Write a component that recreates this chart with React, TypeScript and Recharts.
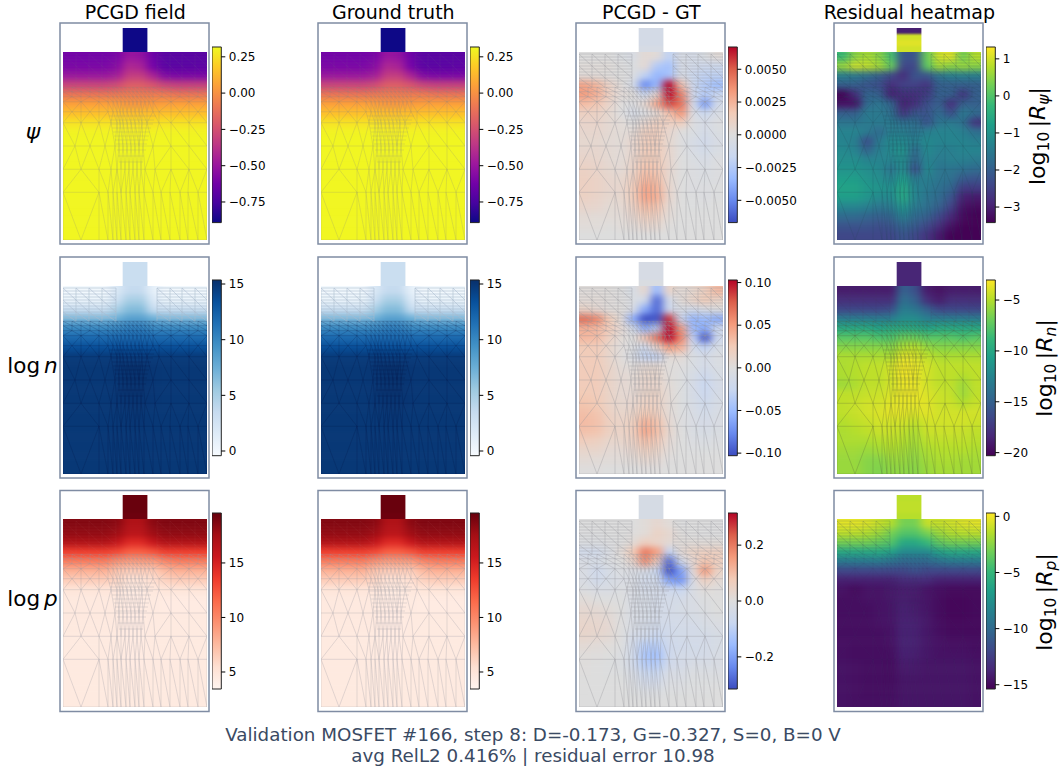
import React from "react";
import { ComposedChart, Scatter, Line, XAxis, YAxis, ReferenceArea } from "recharts";

// ---------- colormap stops ----------
const plasmaStops = ["#0d0887","#46039f","#7201a8","#9c179e","#bd3786","#d8576b","#ed7953","#fb9f3a","#fdca26","#f0f921"];
const bluesStops = ["#f7fbff","#deebf7","#c6dbef","#9ecae1","#6baed6","#4292c6","#2171b5","#08519c","#08306b"];
const redsStops = ["#fff5f0","#fee0d2","#fcbba1","#fc9272","#fb6a4a","#ef3b2c","#cb181d","#a50f15","#67000d"];
const coolwarmStops = ["#3b4cc0","#6889ee","#9abbff","#c9d7f0","#dddddd","#f2cbb7","#f49a7b","#dc5f4b","#b40426"];
const viridisStops = ["#440154","#482878","#3e4989","#31688e","#26828e","#1f9e89","#35b779","#6ece58","#b5de2b","#fde725"];

// ---------- field values, 12 columns x 20 rows, top row first ----------
const psiField = [
[-62,-62,-62,-62,-60,-50,-52,-64,-70,-70,-70,-70],
[-60,-60,-60,-60,-56,-42,-45,-62,-70,-70,-70,-69],
[-50,-50,-50,-50,-46,-33,-33,-44,-58,-60,-60,-60],
[-30,-30,-30,-30,-27,-20,-20,-24,-30,-32,-32,-32],
[-10,-10,-10,-10,-9,-8,-8,-8,-8,-10,-10,-10],
[5,5,5,5,4,2,2,3,4,5,5,5],
[15,15,15,15,15,14,14,14,15,15,15,15],
[25,25,25,25,25,24,24,24,25,25,25,25],
[30,30,30,30,30,29,29,30,30,30,30,30],
[31,31,31,31,31,30,30,31,31,31,31,31],
[31,31,31,31,31,31,31,31,31,31,31,31],
[31,31,31,31,31,31,31,31,31,31,31,31],
[31,31,31,31,31,31,31,31,31,31,31,31],
[31,31,31,31,31,31,31,31,31,31,31,31],
[31,31,31,31,31,31,31,31,31,31,31,31],
[31,31,31,31,31,31,31,31,31,31,31,31],
[31,31,31,31,31,31,31,31,31,31,31,31],
[31,31,31,31,31,31,31,31,31,31,31,31],
[31,31,31,31,31,31,31,31,31,31,31,31],
[31,31,31,31,31,31,31,31,31,31,31,31],
];
const logNField = [
[0,0,0,0,2,3.5,3.5,1,0,0,0,0],
[0.5,0.5,0.5,0.5,3,5,5,2,0.5,0.5,0.5,0.5],
[3,3,3,3,5,6.5,6.5,3.5,3,3,3,3],
[7,7,7,7,7.5,8.5,8.5,7.5,7,7,7,7],
[10,10,10,10,10,10.5,10.5,10,10,10,10,10],
[12,12,12,12,12,12,12,12,12,12,12,12],
[13.5,13.5,13.5,13.5,13.5,13.5,13.5,13.5,13.5,13.5,13.5,13.5],
[14.7,14.7,14.7,14.7,14.7,14.6,14.6,14.7,14.7,14.7,14.7,14.7],
[14.9,14.9,14.9,14.9,15,15.2,15.2,15,14.9,14.9,14.9,14.9],
[14.9,14.9,14.9,14.9,15,15.2,15.2,15,14.9,14.9,14.9,14.9],
[14.9,14.9,14.9,14.9,15,15.2,15.2,15,14.9,14.9,14.9,14.9],
[14.9,14.9,14.9,14.9,15,15.1,15.1,15,14.9,14.9,14.9,14.9],
[14.9,14.9,14.9,14.9,15,15.1,15.1,15,14.9,14.9,14.9,14.9],
[14.9,14.9,14.9,14.9,14.9,15,15,14.9,14.9,14.9,14.9,14.9],
[14.9,14.9,14.9,14.9,14.9,15,15,14.9,14.9,14.9,14.9,14.9],
[14.9,14.9,14.9,14.9,14.9,14.9,14.9,14.9,14.9,14.9,14.9,14.9],
[14.9,14.9,14.9,14.9,14.9,14.9,14.9,14.9,14.9,14.9,14.9,14.9],
[14.9,14.9,14.9,14.9,14.9,14.9,14.9,14.9,14.9,14.9,14.9,14.9],
[14.9,14.9,14.9,14.9,14.9,14.9,14.9,14.9,14.9,14.9,14.9,14.9],
[14.9,14.9,14.9,14.9,14.9,14.9,14.9,14.9,14.9,14.9,14.9,14.9],
];
const logPField = [
[18.7,18.7,18.7,18.7,18.4,17,17,18.4,18.8,18.8,18.8,18.8],
[18.2,18.2,18.2,18.2,17.8,16.5,16.5,17.8,18.3,18.3,18.3,18.3],
[17,17,17,17,16,14.5,14.5,15.8,17,17,17,17],
[13.5,13.5,13.5,13.5,13,12,12,12.5,13.5,13.5,13.5,13.5],
[10.5,10.5,10.5,10.5,9.5,9,9,9,10,10.5,10.5,10.5],
[8,8,8,8,7,6.5,6.5,6.5,7.5,8,8,8],
[6.5,6.5,6.5,6.5,6,5.2,5.2,5.5,6.2,6.5,6.5,6.5],
[5,5,5,5,5,4.6,4.6,4.8,5,5,5,5],
[4.6,4.6,4.6,4.6,4.6,4.4,4.4,4.5,4.4,4.4,4.4,4.4],
[4.6,4.6,4.6,4.6,4.6,4.4,4.4,4.5,4.4,4.4,4.4,4.4],
[4.6,4.6,4.6,4.6,4.6,4.4,4.4,4.5,4.5,4.5,4.5,4.5],
[4.6,4.6,4.6,4.6,4.6,4.4,4.4,4.5,4.5,4.5,4.5,4.5],
[4.5,4.5,4.5,4.5,4.5,4.4,4.4,4.5,4.5,4.5,4.5,4.5],
[4.5,4.5,4.5,4.5,4.5,4.4,4.4,4.5,4.5,4.5,4.5,4.5],
[4.5,4.5,4.5,4.5,4.5,4.4,4.4,4.5,4.5,4.5,4.5,4.5],
[4.5,4.5,4.5,4.5,4.5,4.4,4.4,4.5,4.5,4.5,4.5,4.5],
[4.5,4.5,4.5,4.5,4.5,4.5,4.5,4.5,4.5,4.5,4.5,4.5],
[4.5,4.5,4.5,4.5,4.5,4.5,4.5,4.5,4.5,4.5,4.5,4.5],
[4.5,4.5,4.5,4.5,4.5,4.5,4.5,4.5,4.5,4.5,4.5,4.5],
[4.5,4.5,4.5,4.5,4.5,4.5,4.5,4.5,4.5,4.5,4.5,4.5],
];
// difference panels
const psiDiffMilli = [
[0,0,0,-.3,-.5,.4,.3,-2,-.5,-.8,-.3,.3],
[.2,.2,.2,0,-.3,.5,-2.5,-3,-.5,-1,-1.3,-1.3],
[.2,.2,.1,0,-.2,-2,-3.5,-3,-.5,-1.5,-2,-2],
[3,2.4,1,.2,-.8,-5,-3.5,7,2,-1.5,-2.5,-3.2],
[3.2,2.6,1.2,.3,.2,-1.5,.8,9,4,-1.2,-2.4,-1.6],
[2.2,1.8,.9,.1,-.2,.6,3,5.5,4.5,-.8,-4.5,-1],
[1.2,1.1,.6,0,-.7,-.3,.5,2,3.5,-.4,-1.5,-.5],
[.9,.9,.5,.3,0,.7,1.4,1.2,1.5,-.2,-.7,-.2],
[.7,.7,.5,.3,.4,1.4,1.5,.7,0,-.3,-.8,-.3],
[.6,.6,.4,.3,.7,1.5,1.5,.6,-.1,-.6,-1.1,-.5],
[.7,.7,.5,.3,.7,1.6,1.5,.7,0,-.5,-.9,-.4],
[.9,.8,.5,.3,.9,1.7,1.6,.7,0,-.3,-.6,-.2],
[1.1,.9,.6,.4,1,2,1.8,.7,0,-.2,-.4,-.2],
[1.2,1,.7,.6,1.3,2.4,2.1,.6,0,-.2,-.3,-.2],
[1.2,1,.7,.7,1.5,3,2.5,.7,0,-.2,-.2,-.1],
[1.1,.9,.6,.6,1.5,3,2.6,.7,0,-.1,-.2,-.1],
[.8,.7,.4,.5,1.1,2.2,1.9,.5,0,-.1,-.1,0],
[.4,.3,.3,.3,.7,1.4,1.2,.3,0,0,0,0],
[.2,.2,.1,.2,.3,.7,.6,.1,0,0,0,0],
[0,0,0,0,0,0,0,0,0,0,0,0],
];
const logNDiffCenti = [
[.3,.3,.2,0,-1,1,-5,1.5,.5,1,2,3.5],
[.5,.5,.3,.1,-.5,-1.5,-9,-1.5,.5,1.5,2.5,1.5],
[1.5,.8,.3,.2,-.8,-6,-9,-2,-.8,-1.5,-.8,0],
[7,6,2.5,.5,-6,-13,-10,9,-2.5,-5.5,-5,-6],
[4,3.6,2.4,.8,-1.5,-6,-3.5,13,5,-5,-6,-2],
[3.6,3.4,1.8,.5,0,3,7,12,6,-3,-10,-2],
[2.5,2.4,1.2,.3,-.3,-2,1.5,5,4,-1.5,-3,-1],
[2.4,2.4,1.2,.3,-.8,-3,-3,.6,.6,-.6,-1.2,-.5],
[2.4,2.4,1.4,.5,.3,.9,.9,.2,.1,-.6,-1.3,-.6],
[2.4,2.4,1.4,.7,.6,1.2,1.2,.3,-.1,-1,-2,-1],
[2.4,2.4,1.5,.8,.7,1.3,1.3,.5,-.2,-1.2,-2.6,-1.2],
[2.6,2.4,1.5,.8,.8,1.5,1.6,.6,-.2,-1.1,-2.3,-1.1],
[2.9,2.6,1.5,1,1.1,1.9,1.7,.6,-.2,-1,-1.9,-1],
[3.2,2.9,1.7,1.2,1.5,2.6,2.1,.6,-.1,-.8,-1.5,-.8],
[3.4,3.1,1.9,1.5,2,4,3,.8,-.1,-.7,-1.2,-.7],
[3.1,2.9,1.8,1.5,2.2,4.5,3.2,1,0,-.6,-1,-.6],
[2.2,1.9,1.2,1.2,1.7,3.2,2.4,.7,0,-.4,-.5,-.4],
[1.2,1.2,.7,.7,1.1,2,1.5,.4,0,-.1,-.2,-.1],
[.6,.5,.4,.4,.5,1,.7,.1,0,0,0,0],
[.1,.1,0,0,0,.1,.1,0,0,0,0,0],
];
const logPDiffCenti = [
[0,0,0,0,0,1,3,1,-.5,0,0,-.5],
[-.5,-.5,0,0,.5,1,5,3,.5,0,-.5,-.5],
[-1,-1,-.5,0,1.5,6,4,2,1,1,1,1],
[-5,-5,-2,1.5,8,20,15,-9,2,5,6,6],
[-2,-3,-1,0,4,18,7,-28,-5,3,9,6],
[-2,-6,-3,-1,-2,-3,-8,-45,-20,2,16,5],
[-2,-5,-3,-2,-2,-5,-5,-20,-22,-2,6,2],
[-1,-2,-2,-1,-2,-4,-4,-6,-8,-2,1,.5],
[1,0,-.5,-.5,-2.5,-3,-4,-4,-4,-2,-.5,0],
[2.5,2,1,0,-2.5,-3,-4,-4,-3,-2.5,-1,0],
[3.5,3,2,0,-2.5,-3,-4,-4,-4,-3,-2,-1],
[4,3.5,2.5,0,-2.5,-4,-5,-5,-4,-4,-3,-2],
[3.5,3,2,0,-4,-5,-8,-5,-4.5,-4,-4,-3],
[1.8,1.2,.6,-.5,-5,-11,-11,-6,-5,-4.5,-4,-3],
[.6,.4,0,-1,-5,-13,-14,-6,-4,-4,-4,-2.5],
[.4,0,-.6,-1,-5,-11,-11,-5,-4,-2.5,-2.5,-2],
[.2,0,-.4,-.6,-2.5,-7,-7,-2.5,-2.5,-1.2,-1.2,-1.2],
[0,0,0,0,-1.2,-4,-4,-1.2,-1.2,-.6,-.6,-.4],
[0,0,0,0,-.6,-1.2,-1.2,-.6,-.6,-.4,-.4,0],
[0,0,0,0,0,0,0,0,0,0,0,0],
];
// residual panels
const psiResidual = [
[-.2,.5,.7,.5,-.1,-2.2,-2.2,.2,1,1.1,.3,.8],
[.6,1,.9,.7,.2,-2.4,-2.4,.1,.7,.5,.6,.5],
[-1.4,-1.5,-1.7,-2,-2.4,-2.8,-2.2,-2.2,-1.6,-1.4,-1.4,-1.4],
[-2,-2,-2.2,-2.3,-2.8,-2.5,-2.5,-2.7,-2,-2,-2,-2],
[-3.4,-2.8,-1.9,-2,-3,-2.8,-2.8,-2.6,-2,-2,-2.7,-2],
[-3.2,-3.2,-1.8,-1.6,-1.9,-3,-2.8,-2.3,-2,-2.8,-2,-2],
[-2,-2,-1.5,-1.5,-1.7,-2.7,-2.2,-2.2,-1.8,-2.3,-1.5,-1.8],
[-1.6,-1.6,-1.5,-1.5,-1.5,-1.7,-1.7,-2.2,-1.6,-1.5,-1.7,-2.7],
[-1.3,-1.3,-1.5,-1.8,-1.4,-1.4,-1.6,-1.4,-1.3,-1.3,-1.4,-1.7],
[-1.3,-1.4,-2.3,-1.5,-1.2,-1.2,-1.4,-1.2,-1.3,-1.3,-1.3,-1.4],
[-1.2,-1.3,-1.9,-1.4,-1.2,-1,-1.8,-1.2,-1.4,-1.4,-1.3,-1.3],
[-1.1,-1.1,-1.3,-1.3,-1.3,-1.1,-1.9,-1.3,-1.5,-1.4,-1.4,-1.5],
[-1,-1,-1.1,-1.2,-1.6,-1.1,-2.3,-1.2,-1.6,-1.6,-1.7,-1.8],
[-.8,-.8,-1,-1.1,-1.3,-.8,-1.5,-1.4,-1.6,-1.7,-2.1,-2.2],
[-.7,-.7,-.9,-1,-1.1,-.6,-1.3,-1.5,-1.7,-1.9,-2.6,-2.6],
[-.8,-.8,-1,-1.2,-1.2,-.6,-1.3,-1.6,-1.8,-2.2,-3,-3.1],
[-1.3,-1.3,-1.4,-1.6,-1.5,-1,-1.5,-1.7,-2,-2.5,-3.2,-3.3],
[-1.8,-1.8,-1.9,-2,-1.9,-1.4,-1.8,-2,-2.4,-2.9,-3.3,-3.4],
[-2.2,-2.2,-2.2,-2.3,-2.2,-1.9,-2.1,-2.4,-2.8,-3.2,-3.4,-3.4],
[-2.4,-2.4,-2.4,-2.4,-2.4,-2.2,-2.4,-2.7,-3.1,-3.4,-3.4,-3.4],
];
const logNResidual = [
[-19,-19,-19,-19,-19,-15,-16,-19,-19.5,-19,-19,-19],
[-18,-18,-18,-18,-18,-14,-15,-18,-19,-18,-18,-18],
[-16.5,-16.5,-16.5,-16.5,-16,-13,-13.5,-15,-16.5,-16.5,-16.5,-16.5],
[-13,-13,-13,-13,-13,-12,-12,-13,-13,-13,-13,-13],
[-10,-10,-10,-10.5,-10,-10,-10,-10.5,-10,-10,-10,-10],
[-7.6,-7.6,-7.6,-8,-8,-7,-7,-7.6,-7.6,-7.6,-8,-7.6],
[-6.2,-6.2,-6.2,-6.2,-6.2,-5.2,-4.8,-5.8,-6.2,-6.2,-6.2,-6.2],
[-5.2,-5.2,-5.2,-5.2,-5.2,-3.7,-4,-4.7,-5.2,-5.2,-5.2,-5.2],
[-5.2,-5,-4.7,-4.7,-4.2,-3.3,-3.6,-4.2,-4.7,-4.7,-4.7,-4.7],
[-5.2,-5,-4.7,-4.7,-4.2,-3.3,-3.6,-4.2,-4.7,-4.7,-5,-4.7],
[-5.6,-5.2,-4.7,-4.7,-4.2,-3.5,-3.6,-4.2,-4.7,-4.7,-5.6,-4.7],
[-4.7,-4.7,-4.5,-4.4,-4,-3.6,-3.5,-4,-4.4,-4.6,-5.6,-4.7],
[-4.7,-4.5,-4.2,-4.2,-3.8,-3.7,-3.7,-3.8,-4.4,-4.4,-5,-4.5],
[-4.7,-4.5,-4.2,-4,-3.7,-3.8,-4,-3.8,-4.2,-4.2,-4.2,-4.2],
[-5,-4.7,-4.5,-4.2,-4.2,-4.2,-4.7,-4.2,-4.2,-4.2,-4.2,-4.4],
[-5.2,-5,-4.7,-4.5,-4.4,-4.7,-5.2,-4.4,-4.4,-4.4,-4.5,-4.7],
[-5.2,-5.2,-5.2,-5,-4.8,-5,-5.4,-4.8,-4.7,-4.7,-4.7,-4.9],
[-5.5,-5.5,-5.7,-5.5,-5.2,-5.4,-5.7,-5.2,-5,-5,-5,-5.2],
[-5.7,-5.7,-6.2,-6.2,-5.7,-5.7,-6,-5.5,-5.2,-5.2,-5.4,-5.4],
[-5.7,-5.7,-6.2,-6.4,-6,-6,-6.2,-5.7,-5.4,-5.4,-5.5,-5.5],
];
const logPResidual = [
[-.3,-.3,-.5,-1,-1.5,-3,-3,-1,-1,-.8,-.5,-.3],
[-1.2,-1.2,-1.5,-2,-3,-4,-4,-3,-2,-1.5,-1.3,-1.2],
[-3,-3,-3,-3.5,-4,-6,-6,-5,-3.5,-3,-3,-3],
[-6,-6,-6,-6,-6.5,-8,-8,-8,-6.5,-6,-6,-6],
[-9,-9,-9,-9,-9.5,-10,-10,-10,-9.5,-9,-9,-9],
[-12,-12,-12,-12,-12,-12,-11.5,-12,-12,-12,-12,-12],
[-14,-14,-14,-14,-14,-13.5,-13.5,-13.5,-14,-14,-14,-14],
[-14.6,-15,-14.6,-14.6,-14.4,-14.2,-14.2,-14.6,-14.8,-15,-15,-15],
[-14.8,-14.8,-14.6,-14.6,-14.4,-14.1,-14.3,-14.5,-14.9,-15.1,-15.1,-15],
[-14.8,-14.8,-14.8,-14.6,-14.5,-14,-14.2,-14.5,-14.9,-15.1,-15.1,-15],
[-14.8,-14.8,-14.8,-14.6,-14.5,-14,-14.1,-14.4,-14.9,-15.1,-15.1,-15],
[-14.8,-14.8,-14.8,-14.7,-14.6,-13.9,-14,-14.4,-14.8,-15,-15,-15],
[-14.8,-14.8,-14.8,-14.8,-14.6,-13.9,-14,-14.4,-14.7,-14.9,-14.9,-14.9],
[-14.7,-14.8,-14.8,-14.8,-14.7,-13.9,-14,-14.4,-14.6,-14.7,-14.7,-14.8],
[-14.7,-14.8,-14.8,-14.8,-14.8,-14,-14.1,-14.4,-14.6,-14.6,-14.6,-14.7],
[-14.6,-14.7,-14.8,-14.8,-14.9,-14.2,-14.3,-14.5,-14.5,-14.5,-14.5,-14.6],
[-14.6,-14.7,-14.8,-14.8,-14.9,-14.4,-14.4,-14.5,-14.5,-14.5,-14.5,-14.6],
[-14.6,-14.7,-14.8,-14.8,-14.9,-14.5,-14.5,-14.5,-14.5,-14.5,-14.5,-14.6],
[-14.6,-14.7,-14.8,-14.8,-14.8,-14.5,-14.5,-14.5,-14.5,-14.5,-14.5,-14.6],
[-14.6,-14.7,-14.7,-14.7,-14.7,-14.5,-14.5,-14.5,-14.5,-14.5,-14.5,-14.6],
];
// gate contact values, 4 strips, top first
const psiGate = [-89,-89,-89,-89];
const logNGate = [3.2,3.2,3.2,3.2];
const logPGate = [19.5,19.5,19.5,19.4];
const psiDiffGate = [-.8,-.8,-.8,-.6];
const logNDiffGate = [-.9,-.9,-.9,-.5];
const logPDiffGate = [-3,-3,-3,-3];
const psiResGate = [-3,1,1.1,1];
const logNResGate = [-18.5,-18.5,-18.5,-18.5];
const logPResGate = [-1.3,-1.2,-1.2,-1.4];

// ---------- mesh vertices ----------
const meshLevelY = [59.3,63.7,68.7,73.7,83.7,94.7,118,141.3,164.3,212];
const meshLevelX = [
[0,9,18,27,36,45,50,54,58,62,66,70,74,78,82,86,90,99,108,117,126,135,144],
[0,9,18,27,36,45,50,54,58,62,66,70,74,78,82,86,90,99,108,117,126,135,144],
[0,9,18,27,36,45,50,54,58,62,66,70,74,78,82,86,90,99,108,117,126,135,144],
[0,18,36,45,50,54,58,62,66,70,74,78,82,86,90,108,126,144],
[0,9,18,27,36,45,50,54,57,60,64,68,72,76,79,84,90,96,108,117,126,135,144],
[0,18,36,48,54,57,60,64,68,72,76,79,84,96,108,126,144],
[0,12,27,42,52,56,60,64,68,72,76,80,90,108,126,144],
[0,18,36,48,54,58,62,66,70,74,78,82,92,108,126,144],
[0,36,45,50,54,58,63,67,72,76,81,90,98,107,117,125,135,144],
[0,18,36,45,50,54,58,63,67,72,76,81,90,98,107,117,125,135,144],
];
const meshBandY = [26,29,32,35,38,41,44,47,50,53,56];
const meshBandCoarseY = [26,38,50];
const meshBandLeftX = [0,13,26,39,53];
const meshBandRightX = [94,107,119,132,144];
const meshCoreY = [88,92,96,100,104,108,112,116,122,128,134];
const meshCoreLeft = [46,47,48,49,50,51,52,53,54,55,56];
const meshCoreRight = [93,91,90,88,87,86,85,84,83,81,80];

// ---------- layout ----------
const colX = [63.3, 321.3, 579.3, 837.3];
const rowTop = [28, 261.7, 495];
const frameX = [60, 318, 576, 834];
const frameY = [23, 257, 490.5];
const barX = [212, 470, 728.3, 986.3];
const barY = [[46.7,222.3],[280,455.7],[513.3,689.3]];

const titles = ["PCGD field","Ground truth","PCGD - GT","Residual heatmap"];
const psiFieldTicks = [0.25,0,-0.25,-0.5,-0.75];
const psiFieldLabels = ["0.25","0.00","−0.25","−0.50","−0.75"];
const logNTicks = [15,10,5,0];
const logPTicks = [15,10,5];
const psiDiffTicks = [0.005,0.0025,0,-0.0025,-0.005];
const psiDiffLabels = ["0.0050","0.0025","0.0000","−0.0025","−0.0050"];
const logNDiffTicks = [0.1,0.05,0,-0.05,-0.1];
const logNDiffLabels = ["0.10","0.05","0.00","−0.05","−0.10"];
const logPDiffTicks = [0.2,0,-0.2];
const logPDiffLabels = ["0.2","0.0","−0.2"];
const psiResTicks = [1,0,-1,-2,-3];
const psiResLabels = ["1","0","−1","−2","−3"];
const logNResTicks = [-5,-10,-15,-20];
const logNResLabels = ["−5","−10","−15","−20"];
const logPResTicks = [0,-5,-10,-15];
const logPResLabels = ["0","−5","−10","−15"];

const meshFaint = "rgba(128,128,128,0.08)";
const meshGrey = "rgba(128,128,128,0.2)";
const meshDiff = "rgba(150,150,155,0.34)";

type PanelDef = { m:number[][]; g:number[]; scale:number; min:number; max:number; stops:string[]; ticks:number[]; labels?:string[]; up:string; lo:string };
const fieldRow = [
  { m:psiField,g:psiGate,scale:0.01,min:-0.892,max:0.3176,stops:plasmaStops,ticks:psiFieldTicks,labels:psiFieldLabels,up:meshFaint,lo:meshGrey },
  { m:logNField,g:logNGate,scale:1,min:-0.42,max:15.36,stops:bluesStops,ticks:logNTicks,up:"rgba(170,185,205,0.55)",lo:"rgba(0,15,60,0.18)" },
  { m:logPField,g:logPGate,scale:1,min:3.44,max:19.58,stops:redsStops,ticks:logPTicks,up:"rgba(200,150,150,0.06)",lo:"rgba(150,150,160,0.28)" },
];
const diffRow = [
  { m:psiDiffMilli,g:psiDiffGate,scale:0.001,min:-0.0067,max:0.0067,stops:coolwarmStops,ticks:psiDiffTicks,labels:psiDiffLabels,up:meshDiff,lo:meshDiff },
  { m:logNDiffCenti,g:logNDiffGate,scale:0.01,min:-0.103,max:0.103,stops:coolwarmStops,ticks:logNDiffTicks,labels:logNDiffLabels,up:meshDiff,lo:meshDiff },
  { m:logPDiffCenti,g:logPDiffGate,scale:0.01,min:-0.315,max:0.315,stops:coolwarmStops,ticks:logPDiffTicks,labels:logPDiffLabels,up:meshDiff,lo:meshDiff },
];
const resRow = [
  { m:psiResidual,g:psiResGate,scale:1,min:-3.42,max:1.32,stops:viridisStops,ticks:psiResTicks,labels:psiResLabels,up:"rgba(40,70,90,0.18)",lo:"rgba(40,70,90,0.18)" },
  { m:logNResidual,g:logNResGate,scale:1,min:-20.3,max:-3.03,stops:viridisStops,ticks:logNResTicks,labels:logNResLabels,up:"rgba(70,60,100,0.14)",lo:"rgba(80,90,60,0.24)" },
  { m:logPResidual,g:logPResGate,scale:1,min:-15.38,max:0.3,stops:viridisStops,ticks:logPResTicks,labels:logPResLabels,up:"rgba(50,80,90,0.2)",lo:"rgba(70,60,110,0.1)" },
];
const columns: PanelDef[][] = [fieldRow, fieldRow, diffRow, resRow];

// ---------- helpers ----------
function hexRgb(h:string){ return [1,3,5].map(i=>parseInt(h.slice(i,i+2),16)); }
function colour(stops:string[], t:number){
  const p=Math.max(0,Math.min(1,t))*(stops.length-1), i=Math.min(stops.length-2,Math.floor(p)), f=p-i;
  const a=hexRgb(stops[i]), b=hexRgb(stops[i+1]);
  return `rgb(${a.map((v,k)=>Math.round(v+(b[k]-v)*f)).join(",")})`;
}
const W=144, H=212, BODY=24, CW=12, CH=9.4, GX0=59.7, GW=24.7, GH=6;

function toCells(m:number[][], scale:number){
  const out:any[]=[];
  m.forEach((row,r)=>row.forEach((v,c)=>out.push({x:CW*c+CW/2,y:BODY+CH*r+CH/2,v:v*scale,c,r})));
  return out;
}
function toGate(g:number[], scale:number){ return g.map((v,r)=>({x:GX0+GW/2,y:GH*r+GH/2,v:v*scale,r})); }

type Seg=[number,number,number,number];
function linkRows(a:number[],ya:number,b:number[],yb:number,out:Seg[]){
  let i=0,j=0; out.push([a[0],ya,b[0],yb]);
  while(i<a.length-1||j<b.length-1){
    const adv = j>=b.length-1 ? true : i>=a.length-1 ? false : Math.abs(a[i+1]-b[j])<Math.abs(a[i]-b[j+1]);
    if(adv) i++; else j++;
    out.push([a[i],ya,b[j],yb]);
  }
}
function hLines(xs:number[],y:number,out:Seg[]){ for(let i=0;i<xs.length-1;i++) out.push([xs[i],y,xs[i+1],y]); }
const segs:Seg[]=[];
meshLevelY.forEach((y,k)=>{ hLines(meshLevelX[k],y,segs); if(k<meshLevelY.length-1) linkRows(meshLevelX[k],y,meshLevelX[k+1],meshLevelY[k+1],segs); });
meshBandY.forEach(y=>{ hLines(meshBandLeftX,y,segs); hLines(meshBandRightX,y,segs); });
meshBandCoarseY.forEach((y,k)=>{
  const ny=k<meshBandCoarseY.length-1?meshBandCoarseY[k+1]:meshLevelY[0];
  [meshBandLeftX,meshBandRightX].forEach(xs=>linkRows(xs,y,xs,ny,segs));
});
meshCoreY.forEach((y,k)=>hLines([meshCoreLeft[k],meshCoreRight[k]],y,segs));
function toPath(list:Seg[]){
  const pts:any[]=[];
  list.forEach(([a,b,c,d])=>{ pts.push({x:a,y:b},{x:c,y:d},{x:c,y:null}); });
  return pts;
}
const meshUpper=toPath(segs.filter(s=>Math.min(s[1],s[3])<59));
const meshLower=toPath(segs.filter(s=>Math.min(s[1],s[3])>=59));

function BodyCell(p:any){
  const {cx,cy,payload,fills}=p; const pad=18;
  const l=payload.c===0?pad:0, rr=payload.c===11?pad:0, t=payload.r===0?pad:0, b=payload.r===19?pad:0;
  return <rect x={cx-CW/2-l} y={cy-CH/2-t} width={CW+l+rr+0.4} height={CH+t+b+0.4} fill={fills(payload.v)} />;
}
function GateCell(p:any){
  const {cy,cx,payload,fills}=p; const pad=14;
  const t=payload.r===0?pad:0, b=payload.r===3?pad:0;
  return <rect x={cx-GW/2-pad} y={cy-GH/2-t} width={GW+2*pad} height={GH+t+b+0.3} fill={fills(payload.v)} />;
}

function Panel({def,left,top}:{def:PanelDef;left:number;top:number}){
  const fills=(v:number)=>colour(def.stops,(v-def.min)/(def.max-def.min));
  return (
    <div style={{position:"absolute",left,top}}>
      <ComposedChart width={W} height={H} margin={{top:0,right:0,bottom:0,left:0}}>
        <XAxis type="number" dataKey="x" domain={[0,W]} hide allowDataOverflow />
        <YAxis type="number" dataKey="y" domain={[0,H]} reversed hide allowDataOverflow />
        <Scatter className="gate-cells" data={toGate(def.g,def.scale)} dataKey="y" isAnimationActive={false} shape={(p:any)=><GateCell {...p} fills={fills}/>} />
        <Scatter className="body-cells" data={toCells(def.m,def.scale)} dataKey="y" isAnimationActive={false} shape={(p:any)=><BodyCell {...p} fills={fills}/>} />
        <Line data={meshUpper} dataKey="y" stroke={def.up} strokeWidth={1} dot={false} activeDot={false} legendType="none" isAnimationActive={false} zIndex={800} />
        <Line data={meshLower} dataKey="y" stroke={def.lo} strokeWidth={1} dot={false} activeDot={false} legendType="none" isAnimationActive={false} zIndex={800} />
      </ComposedChart>
    </div>
  );
}

function ColorBar({def,left,top,h,id}:{def:PanelDef;left:number;top:number;h:number;id:string}){
  const fmt=(v:number)=>{ const i=def.ticks.indexOf(v); return def.labels?def.labels[i]:String(v); };
  return (
    <div style={{position:"absolute",left,top:top-6}}>
      <ComposedChart width={70} height={h+12} margin={{top:6,right:0,bottom:6,left:0}} data={[{x:0,y:def.min},{x:1,y:def.max}]}>
        <XAxis type="number" dataKey="x" domain={[0,1]} hide />
        <YAxis yAxisId="cb" orientation="right" type="number" width={60.7} domain={[def.min,def.max]} ticks={def.ticks} interval={0}
          tickFormatter={fmt} axisLine={false} tickSize={4} tickMargin={3.5} tickLine={{stroke:"#000",strokeWidth:1}}
          tick={{fontSize:12,fontFamily:"DejaVu Sans",fill:"#000"}} allowDataOverflow />
        <ReferenceArea yAxisId="cb" y1={def.min} y2={def.max} fill={`url(#${id})`} fillOpacity={1} stroke="#222" strokeWidth={1} ifOverflow="visible" />
      </ComposedChart>
    </div>
  );
}

const F="DejaVu Sans";
function ResLabel({x,cy,sub}:{x:number;cy:number;sub:string}){
  return (
    <text transform={`translate(${x},${cy}) rotate(-90)`} textAnchor="middle" fontFamily={F} fontSize={22} fill="#000">
      log<tspan fontSize={15.5} dy={4}>10</tspan><tspan dy={-4}>{"\u2009"}|</tspan><tspan fontStyle="italic">R</tspan><tspan fontSize={15.5} dy={4} fontStyle="italic">{sub}</tspan><tspan dy={-4}>|</tspan>
    </text>
  );
}

const gradients:{id:string;stops:string[]}[]=[
  {id:"g-plasma",stops:plasmaStops},{id:"g-blues",stops:bluesStops},{id:"g-reds",stops:redsStops},
  {id:"g-coolwarm",stops:coolwarmStops},{id:"g-viridis",stops:viridisStops},
];
function gradId(stops:string[]){ return gradients.find(g=>g.stops===stops)!.id; }

export default function App(){
  return (
    <div style={{position:"absolute",left:0,top:0,width:1060,height:768,background:"#fff",overflow:"hidden"}}>
      <style>{`.body-cells{filter:url(#blurBody);clip-path:url(#clipBody)}.gate-cells{filter:url(#blurGate);clip-path:url(#clipGate)}.recharts-line{filter:blur(0.45px)}`}</style>
      <svg width={1060} height={768} style={{position:"absolute",left:0,top:0}}>
        <defs>
          {gradients.map(g=>(
            <linearGradient key={g.id} id={g.id} x1="0" y1="1" x2="0" y2="0">
              {g.stops.map((s,i)=><stop key={i} offset={i/(g.stops.length-1)} stopColor={s}/>)}
            </linearGradient>
          ))}
          <filter id="blurBody" filterUnits="userSpaceOnUse" x={-40} y={-40} width={240} height={300} colorInterpolationFilters="sRGB"><feGaussianBlur stdDeviation="4.5 3.2"/></filter>
          <filter id="blurGate" filterUnits="userSpaceOnUse" x={-40} y={-40} width={240} height={300} colorInterpolationFilters="sRGB"><feGaussianBlur stdDeviation="0 1.2"/></filter>
          <clipPath id="clipBody" clipPathUnits="userSpaceOnUse"><rect x={0} y={BODY} width={W} height={H-BODY}/></clipPath>
          <clipPath id="clipGate" clipPathUnits="userSpaceOnUse"><rect x={GX0} y={0} width={GW} height={BODY}/></clipPath>
        </defs>
        {frameX.map(fx=>frameY.map(fy=>(
          <rect key={fx+"-"+fy} x={fx} y={fy} width={149} height={221} fill="#fff" stroke="#7f8ca3" strokeWidth={1.5}/>
        )))}
        {titles.map((t,i)=><text key={t} x={colX[i]+72} y={18.5} textAnchor="middle" fontFamily={F} fontSize={19} fill="#000">{t}</text>)}
        <text x={33} y={139} textAnchor="middle" fontFamily={F} fontStyle="italic" fontSize={22} fill="#000">ψ</text>
        <text x={32.5} y={373} textAnchor="middle" fontFamily={F} fontSize={21.5} fill="#000">log<tspan dx={4} fontStyle="italic">n</tspan></text>
        <text x={32.5} y={606} textAnchor="middle" fontFamily={F} fontSize={21.5} fill="#000">log<tspan dx={4} fontStyle="italic">p</tspan></text>
        <ResLabel x={1045} cy={136} sub="ψ"/>
        <ResLabel x={1052} cy={368} sub="n"/>
        <ResLabel x={1052} cy={602} sub="p"/>
        <text x={533} y={741} textAnchor="middle" fontFamily={F} fontSize={18.3} fill="#3a4a63">Validation MOSFET #166, step 8: D=-0.173, G=-0.327, S=0, B=0 V</text>
        <text x={533} y={762} textAnchor="middle" fontFamily={F} fontSize={18.3} fill="#3a4a63">avg RelL2 0.416% | residual error 10.98</text>
      </svg>
      {columns.map((col,c)=>col.map((def,r)=>(
        <React.Fragment key={c+"-"+r}>
          <Panel def={def} left={colX[c]} top={rowTop[r]}/>
          <ColorBar def={def} left={barX[c]} top={barY[r][0]} h={barY[r][1]-barY[r][0]} id={gradId(def.stops)}/>
        </React.Fragment>
      )))}
    </div>
  );
}
